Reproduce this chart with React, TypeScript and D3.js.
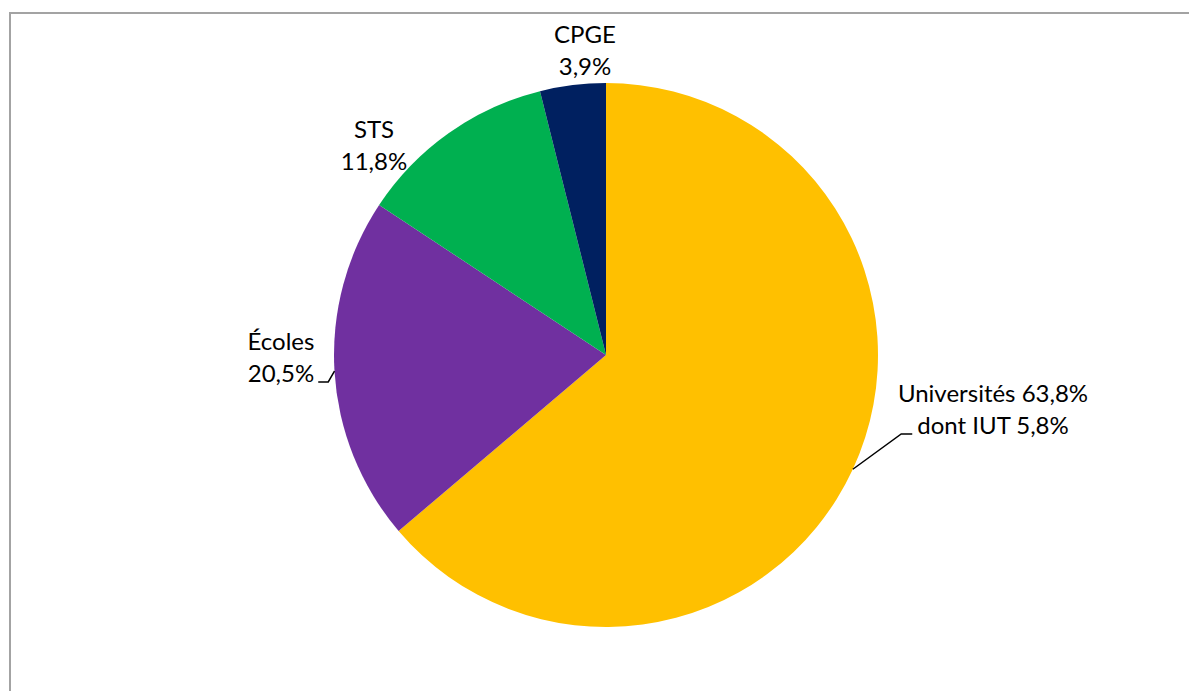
import React, { useEffect, useRef } from "react";
import * as d3 from "d3";

// Données : répartition des étudiants par filière (%)
const categories = ["Universités", "Écoles", "STS", "CPGE"];
const shares = [63.8, 20.5, 11.8, 3.9];
const labelLines = [
  ["Universités 63,8%", "dont IUT 5,8%"],
  ["Écoles", "20,5%"],
  ["STS", "11,8%"],
  ["CPGE", "3,9%"],
];

// Mise en forme (séparée des données)
const colors = ["#FFC000", "#7030A0", "#00B050", "#002060"];
// position du centre du libellé (x) et de la ligne de base de la 1re ligne, relatif au centre du camembert
const labelOffsets: [number, number][] = [
  [387, 47],
  [-325, -5],
  [-232, -217],
  [-21, -312],
];
const hasLeader = [true, true, false, false];

const W = 1189;
const H = 691;
const CX = 606;
const CY = 355;
const R = 272;
const LINE = 32;
const FONT = "Lato, 'Noto Sans', sans-serif";

type Datum = { name: string; value: number; color: string; lines: string[]; offset: [number, number]; leader: boolean };

const App: React.FC = () => {
  const svgRef = useRef<SVGSVGElement>(null);

  useEffect(() => {
    if (!svgRef.current) return;
    const svg = d3.select(svgRef.current);
    svg.selectAll("*").remove();

    const data: Datum[] = categories.map((name, i) => ({
      name,
      value: shares[i],
      color: colors[i],
      lines: labelLines[i],
      offset: labelOffsets[i],
      leader: hasLeader[i],
    }));

    // cadre gris (déborde à droite et en bas, comme l'original)
    svg
      .append("rect")
      .attr("x", 10)
      .attr("y", 13)
      .attr("width", W + 20)
      .attr("height", H + 20)
      .attr("fill", "white")
      .attr("stroke", "#a3a3a3")
      .attr("stroke-width", 2);

    const g = svg.append("g").attr("transform", `translate(${CX},${CY})`);

    const pie = d3
      .pie<Datum>()
      .value((d) => d.value)
      .sort(null);
    const arc = d3.arc<d3.PieArcDatum<Datum>>().innerRadius(0).outerRadius(R);
    const edge = d3.arc<d3.PieArcDatum<Datum>>().innerRadius(R).outerRadius(R);

    const arcs = pie(data);

    g.selectAll("path.slice")
      .data(arcs)
      .enter()
      .append("path")
      .attr("class", "slice")
      .attr("d", arc)
      .attr("fill", (d) => d.data.color);

    // libellés
    arcs.forEach((a) => {
      const [dx, dy] = a.data.offset;
      const text = g
        .append("text")
        .attr("text-anchor", "middle")
        .style("font-family", FONT)
        .style("font-size", "24px")
        .style("fill", "#000");
      a.data.lines.forEach((line, j) => {
        text
          .append("tspan")
          .attr("x", dx)
          .attr("y", dy + j * LINE)
          .text(line);
      });

      if (a.data.leader) {
        const tspans = text.selectAll<SVGTSpanElement, unknown>("tspan").nodes();
        const last = tspans[tspans.length - 1];
        const w = last.getComputedTextLength();
        const [ex, ey] = edge.centroid(a);
        const ly = dy + (a.data.lines.length - 1) * LINE;
        const onLeft = ex < 0;
        const x0 = onLeft ? dx + w / 2 + 4 : dx - w / 2 - 5;
        const x1 = onLeft ? x0 + 10 : x0 - 11;
        g.append("polyline")
          .attr("points", [[x0, ly], [x1, ly], [ex, ey]].map((p) => p.join(",")).join(" "))
          .attr("fill", "none")
          .attr("stroke", "#000")
          .attr("stroke-width", 1.5);
      }
    });
  }, []);

  return (
    <svg
      ref={svgRef}
      width={W}
      height={H}
      style={{ position: "absolute", left: 0, top: 0, background: "white" }}
    />
  );
};

export default App;
